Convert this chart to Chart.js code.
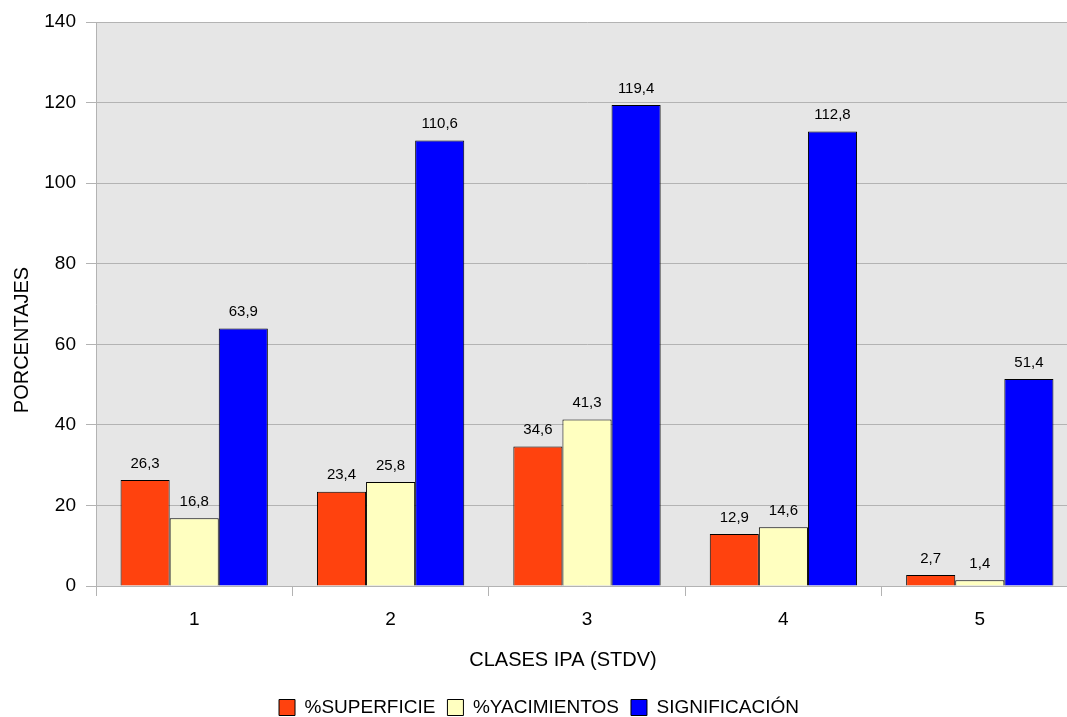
<!DOCTYPE html>
<html lang="es">
<head>
  <meta charset="UTF-8" />
  <title>Clases IPA</title>
  <style>
    html, body { margin: 0; padding: 0; background: #fff; overflow: hidden; }
    #wrap { width: 1080px; height: 727px; }
  </style>
</head>
<body>
  <div id="wrap">
    <canvas id="grafico" width="1080" height="727"></canvas>
  </div>

  <script src="https://cdn.jsdelivr.net/npm/chart.js"></script>
  <script>
    const clases = ['1', '2', '3', '4', '5'];
    const superficie = [26.3, 23.4, 34.6, 12.9, 2.7];
    const yacimientos = [16.8, 25.8, 41.3, 14.6, 1.4];
    const significacion = [63.9, 110.6, 119.4, 112.8, 51.4];

    const fuente = "'Liberation Sans', Arial, sans-serif";
    const gris = '#b3b3b3';

    // fondo gris del area del grafico
    const fondoPlugin = {
      id: 'fondo',
      beforeDraw(chart) {
        const a = chart.chartArea;
        const ctx = chart.ctx;
        ctx.save();
        ctx.fillStyle = '#e6e6e6';
        ctx.fillRect(a.left, a.top, a.right - a.left, a.bottom - a.top);
        ctx.restore();
      }
    };

    // valores encima de cada barra, con coma decimal
    const etiquetasPlugin = {
      id: 'etiquetas',
      afterDatasetsDraw(chart) {
        const ctx = chart.ctx;
        ctx.save();
        ctx.font = '15px ' + fuente;
        ctx.fillStyle = '#000';
        ctx.textAlign = 'center';
        ctx.textBaseline = 'bottom';
        chart.data.datasets.forEach((ds, i) => {
          chart.getDatasetMeta(i).data.forEach((bar, j) => {
            const txt = ds.data[j].toFixed(1).replace('.', ',');
            ctx.fillText(txt, bar.x, bar.y - 9);
          });
        });
        ctx.restore();
      }
    };

    // titulos de los ejes
    const titulosPlugin = {
      id: 'titulos',
      afterDraw(chart) {
        const ctx = chart.ctx;
        ctx.save();
        ctx.font = '20px ' + fuente;
        ctx.fillStyle = '#000';
        ctx.textAlign = 'center';
        ctx.textBaseline = 'middle';
        ctx.fillText('CLASES IPA (STDV)', 563, 660);
        ctx.translate(22, 340);
        ctx.rotate(-Math.PI / 2);
        ctx.fillText('PORCENTAJES', 0, 0);
        ctx.restore();
      }
    };

    new Chart(document.getElementById('grafico'), {
      type: 'bar',
      data: {
        labels: clases,
        datasets: [
          { label: '%SUPERFICIE', data: superficie, backgroundColor: '#ff420e' },
          { label: '%YACIMIENTOS', data: yacimientos, backgroundColor: '#ffffc0' },
          { label: 'SIGNIFICACIÓN', data: significacion, backgroundColor: '#0000ff' }
        ]
      },
      options: {
        responsive: false,
        animation: false,
        layout: { padding: { top: 22, right: 2, bottom: 0, left: 0 } },
        datasets: {
          bar: {
            borderColor: '#000',
            borderWidth: 1,
            categoryPercentage: 0.75,
            barPercentage: 1.0
          }
        },
        plugins: {
          legend: {
            position: 'bottom',
            labels: {
              font: { family: fuente, size: 19 },
              color: '#000',
              boxWidth: 16,
              boxHeight: 16,
              padding: 12
            }
          },
          tooltip: { enabled: false }
        },
        scales: {
          x: {
            grid: { drawOnChartArea: false, color: gris, tickLength: 10 },
            border: { color: gris },
            ticks: { font: { family: fuente, size: 19 }, color: '#000', padding: 12 },
            afterFit(scale) { scale.height = 100; }
          },
          y: {
            min: 0,
            max: 140,
            ticks: { stepSize: 20, font: { family: fuente, size: 19 }, color: '#000', padding: 10 },
            grid: { color: gris, tickLength: 10 },
            border: { color: gris },
            afterFit(scale) { scale.width = 96; }
          }
        }
      },
      plugins: [fondoPlugin, etiquetasPlugin, titulosPlugin]
    });
  </script>
</body>
</html>
